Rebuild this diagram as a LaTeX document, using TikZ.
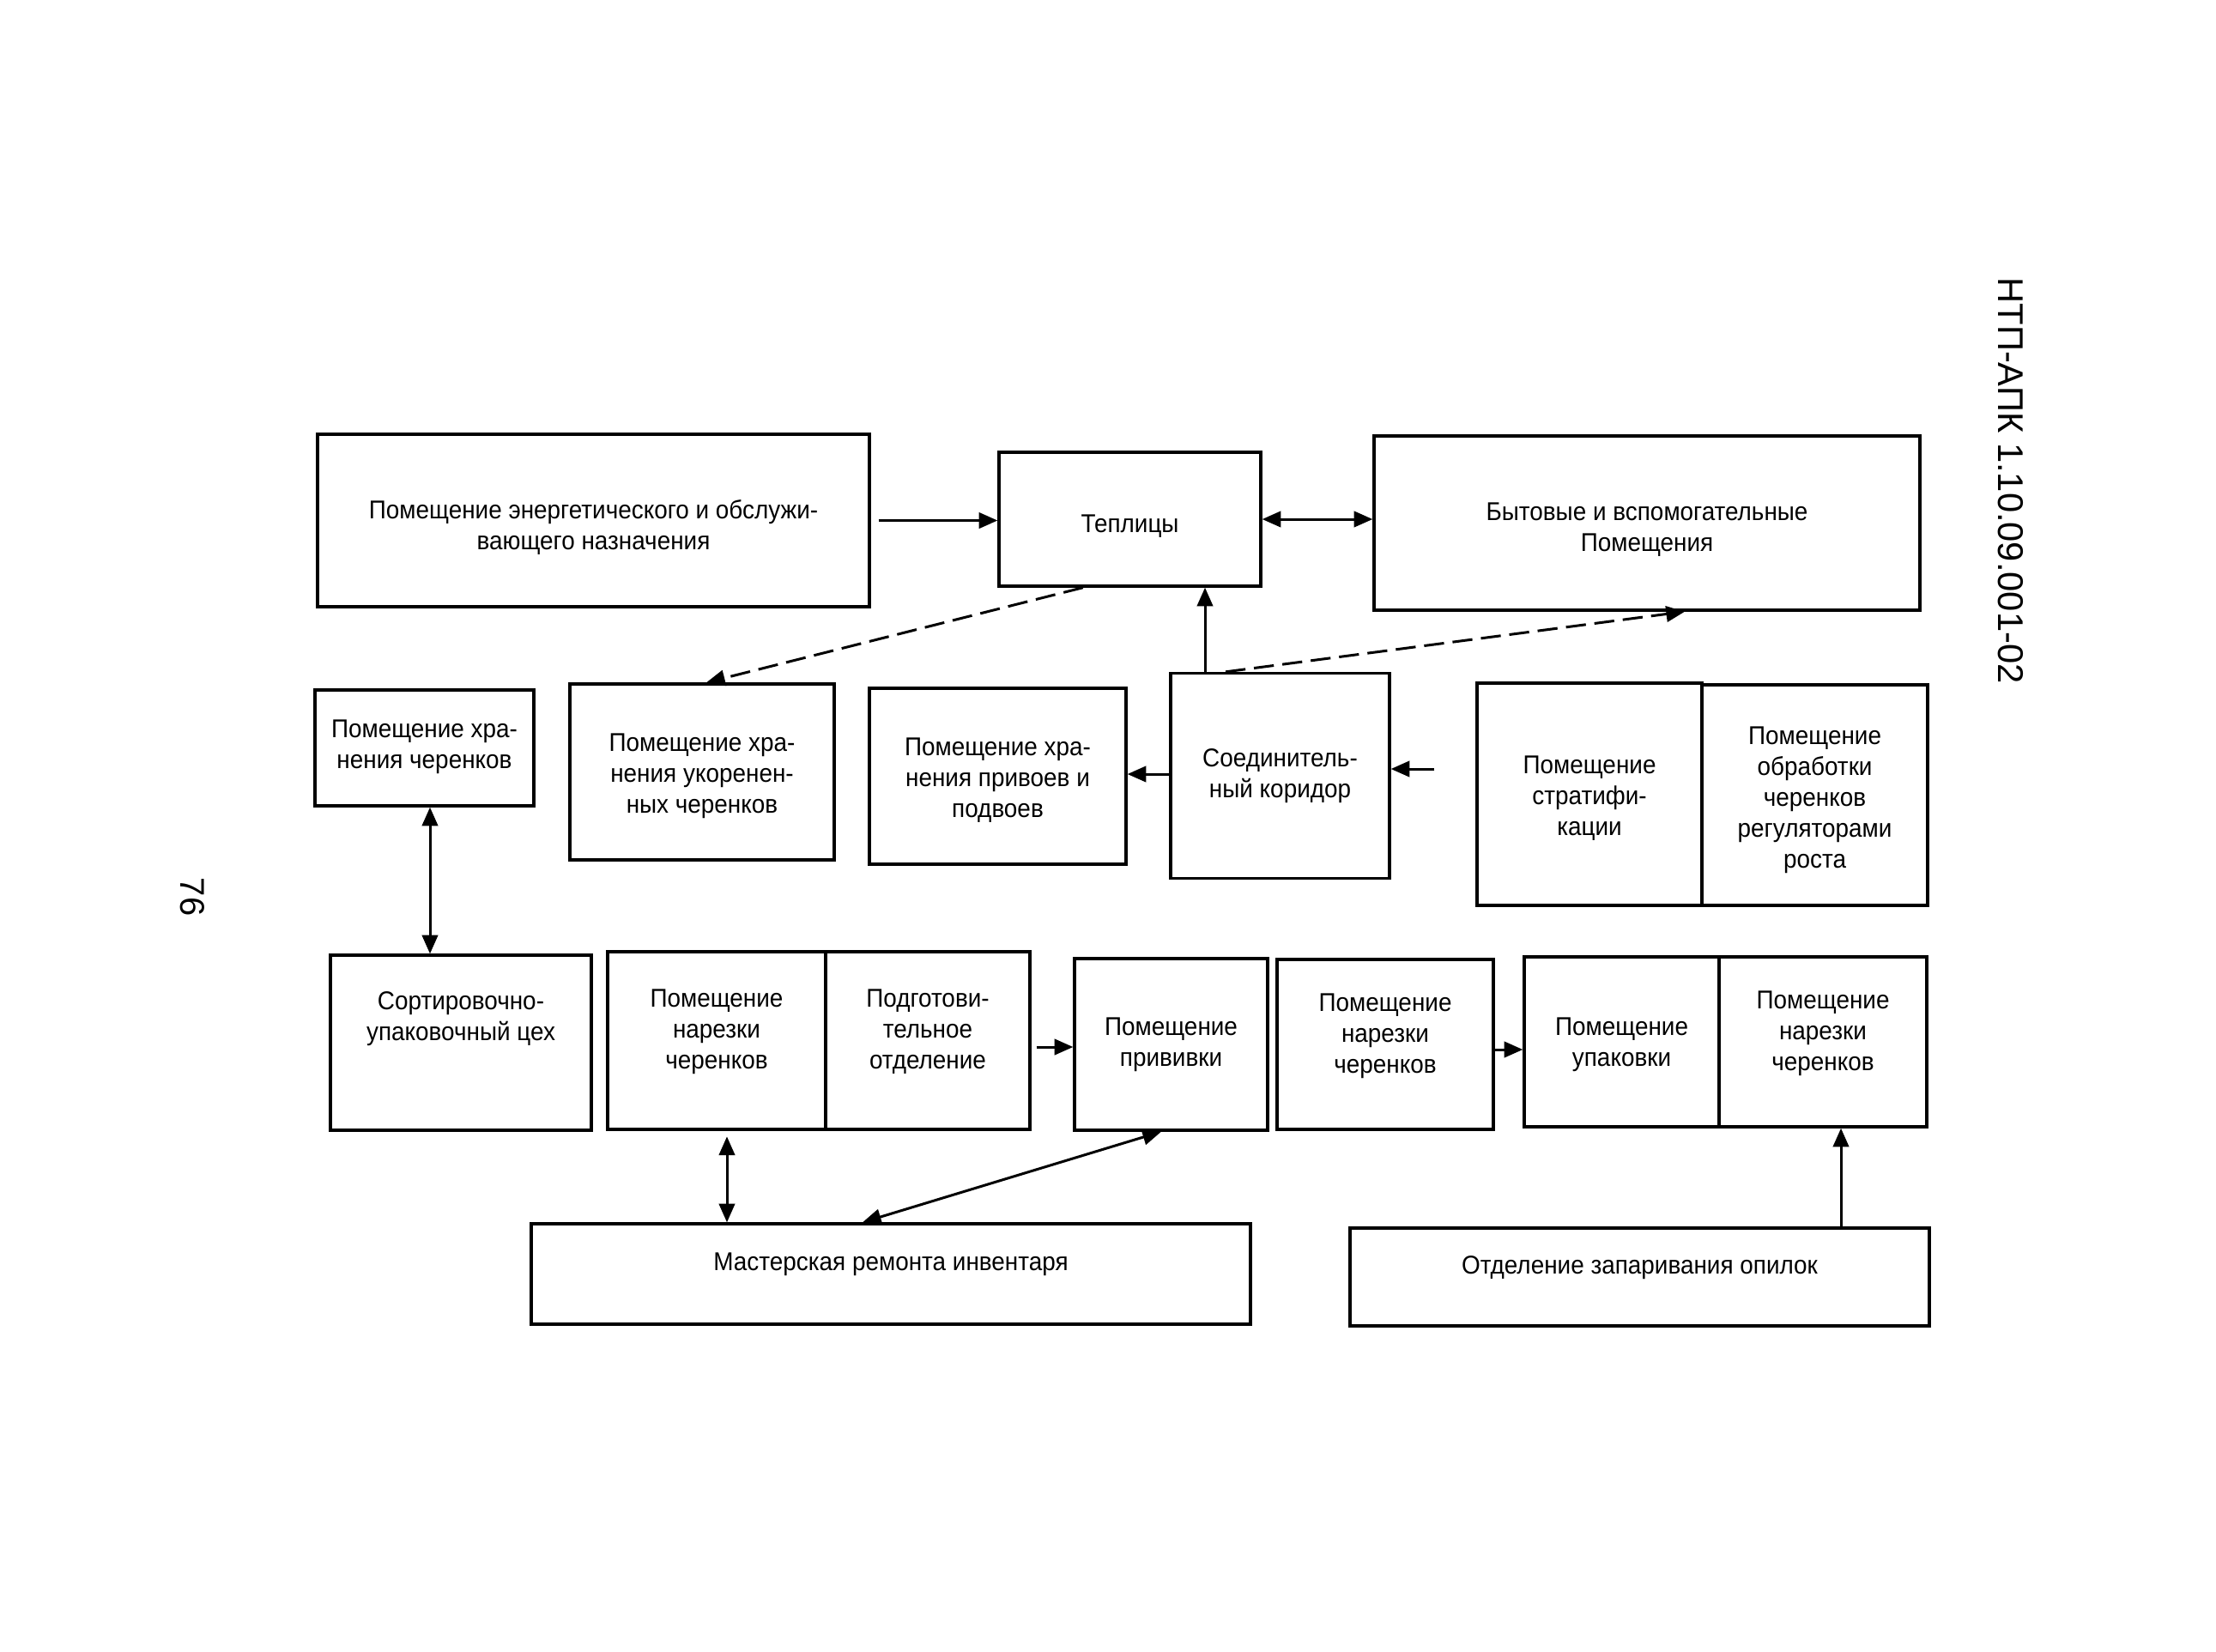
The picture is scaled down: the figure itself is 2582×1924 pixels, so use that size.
\documentclass[tikz,border=0pt]{standalone}
\usepackage{fontspec}
\setmainfont[FakeStretch=0.93]{Liberation Sans}
\newfontfamily\codefont{Liberation Sans}
\usetikzlibrary{arrows.meta}
\newcommand\fsz{\fontsize{9}{10.8}\selectfont}
\begin{document}
\begin{tikzpicture}[x=0.3pt,y=-0.3pt,
  box/.style 2 args={draw,line width=1pt,minimum width=#1*0.3pt,minimum height=#2*0.3pt,inner sep=0pt,align=center,font=\fsz},
  txt/.style={align=center,font=\fsz,inner sep=0pt},
  arr/.style={line width=0.9pt,-{Triangle[length=6.5pt,width=5.5pt]}},
  darr/.style={line width=0.9pt,{Triangle[length=6.5pt,width=5.5pt]}-{Triangle[length=6.5pt,width=5.5pt]}},
  dsh/.style={dash pattern=on 7pt off 3pt}]
\fill[white] (0,0) rectangle (2582,1924);
\useasboundingbox (0,0) rectangle (2582,1924);

% top row
\node[box={643}{201},label={[txt,yshift=-2.4pt]center:{Помещение энергетического и обслужи-\\вающего назначения}}] (energy) at (691.5,606.5) {};
\node[box={305}{156},label={[txt,yshift=-2.4pt]center:{Теплицы}}] (tep) at (1316.5,605) {};
\node[box={636}{203},label={[txt,yshift=-2.4pt]center:{Бытовые и вспомогательные\\Помещения}}] (byt) at (1919,609.5) {};

% middle row
\node[box={255}{135},label={[txt,yshift=0.5pt]center:{Помещение хра-\\нения черенков}}] (xr1) at (494.5,871.5) {};
\node[box={308}{205},label={[txt,yshift=-1.4pt]center:{Помещение хра-\\нения укоренен-\\ных черенков}}] (xr2) at (818,899.5) {};
\node[box={299}{205},label={[txt,yshift=-1.4pt]center:{Помещение хра-\\нения привоев и\\подвоев}}] (xr3) at (1162.5,904.5) {};
\node[box={255}{239},label={[txt,yshift=0pt]center:{Соединитель-\\ный коридор}}] (corr) at (1491.5,904) {};
\node[box={262}{259},label={[txt,yshift=-1.4pt]center:{Помещение\\стратифи-\\кации}}] (strat) at (1852,925.5) {};
\node[box={263}{257},label={[txt,yshift=-1.8pt]center:{Помещение\\обработки\\черенков\\регуляторами\\роста}}] (obr) at (2114.5,926.5) {};

% lower row
\node[box={304}{204},label={[txt,yshift=8.3pt]center:{Сортировочно-\\упаковочный цех}}] (sort) at (537,1215) {};
\node[box={254}{207},label={[txt,yshift=3pt]center:{Помещение\\нарезки\\черенков}}] (nar1) at (835,1212.5) {};
\node[box={238}{207},label={[txt,yshift=3pt]center:{Подготови-\\тельное\\отделение}}] (podg) at (1081,1212.5) {};
\node[box={225}{200},label={[txt,yshift=0pt]center:{Помещение\\прививки}}] (priv) at (1364.5,1217) {};
\node[box={252}{198},label={[txt,yshift=3pt]center:{Помещение\\нарезки\\черенков}}] (nar2) at (1614,1217) {};
\node[box={227}{198},label={[txt,yshift=-1pt]center:{Помещение\\упаковки}}] (upak) at (1889.5,1214) {};
\node[box={242}{198},label={[txt,yshift=2.8pt]center:{Помещение\\нарезки\\черенков}}] (nar3) at (2124,1214) {};

% bottom row
\node[box={838}{117},label={[txt,yshift=3.5pt]center:{Мастерская ремонта инвентаря}}] (mast) at (1038,1484.5) {};
\node[box={675}{114},label={[txt,yshift=3.4pt]center:{Отделение запаривания опилок}}] (otd) at (1910.5,1488) {};

% side texts
\node[rotate=-90,font=\codefont\fontsize{12.5}{15}\selectfont,inner sep=0pt] (code) at (2343,560) {НТП-АПК 1.10.09.001-02};
\node[rotate=-90,font=\codefont\fontsize{12}{14}\selectfont,inner sep=0pt] (page) at (224,1045) {76};

% connectors
\draw[arr,shorten <=2.7pt] (energy.east) -- (energy.east -| tep.west);
\draw[darr] (tep.east) -- (tep.east -| byt.west);
\draw[arr,dsh] ([xshift=-16.4pt]tep.south) -- ([xshift=1.5pt]xr2.north);
\path ([xshift=-26.25pt]corr.north) coordinate (c1);
\draw[arr] (c1) -- (c1 |- tep.south);
\draw[arr,dsh] ([xshift=-19.05pt]corr.north) -- ([xshift=13.2pt]byt.south);
\path ([yshift=0.6pt]corr.west) coordinate (c2);
\draw[arr] (c2) -- (c2 -| xr3.east);
\path ([yshift=8.85pt]strat.west) coordinate (c3);
\draw[arr,shorten <=14.4pt] (c3) -- (c3 -| corr.east);
\path ([xshift=-10.8pt]sort.north) coordinate (c4);
\draw[darr] (c4) -- (c4 |- xr1.south);
\path ([yshift=-2.25pt]podg.east) coordinate (c5);
\draw[arr,shorten <=1.8pt] (c5) -- (c5 -| priv.west);
\path ([xshift=3.6pt]nar1.south) coordinate (c6);
\draw[darr,shorten <=2pt] (c6) -- (c6 |- mast.north);
\draw[darr] ([xshift=-3.45pt]priv.south) -- ([xshift=-9.9pt]mast.north);
\path ([yshift=-1.8pt]nar2.east) coordinate (c7);
\draw[arr] (c7) -- (c7 -| upak.west);
\path ([xshift=70.35pt]otd.north) coordinate (c8);
\draw[arr] (c8) -- (c8 |- nar3.south);
\end{tikzpicture}
\end{document}
